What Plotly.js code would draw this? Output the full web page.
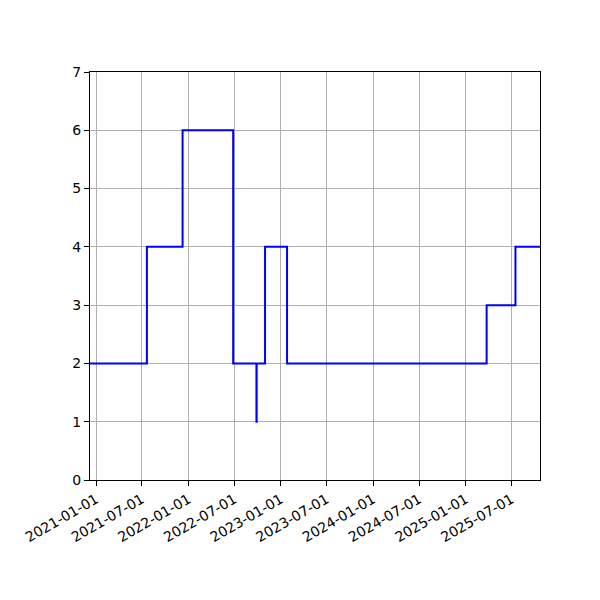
<!DOCTYPE html>
<html>
<head>
<meta charset="utf-8">
<script src="https://cdn.plot.ly/plotly-3.0.1.min.js"></script>
<style>body{margin:0;} #plotDiv{width:600px;height:600px;}</style>
</head>
<body>
<div id="plotDiv"></div>
<script>
var dates = ['2020-12-08', '2021-07-21', '2021-12-09', '2022-06-27', '2022-09-27',
  '2022-09-28', '2022-10-31', '2023-01-26', '2025-03-25', '2025-07-17', '2025-10-22'];
var values = [2, 4, 6, 2, 1, 2, 4, 2, 3, 4, 4];
var tickDates = ['2021-01-01', '2021-07-01', '2022-01-01', '2022-07-01', '2023-01-01',
  '2023-07-01', '2024-01-01', '2024-07-01', '2025-01-01', '2025-07-01'];

var data = [{
  type: 'scatter',
  mode: 'lines',
  x: dates,
  y: values,
  line: { shape: 'hv', color: '#0000ff', width: 2 },
  hoverinfo: 'x+y'
}];

var axisStyle = {
  showline: true,
  linecolor: '#000',
  linewidth: 1,
  mirror: true,
  ticks: 'outside',
  ticklen: 5,
  tickcolor: '#000',
  showgrid: true,
  gridcolor: '#b0b0b0',
  gridwidth: 0.8,
  zeroline: false,
  tickfont: { family: 'DejaVu Sans', size: 14, color: '#000' }
};

var layout = {
  width: 600,
  height: 600,
  margin: { l: 90, r: 60, t: 72, b: 120 },
  paper_bgcolor: '#fff',
  plot_bgcolor: '#fff',
  showlegend: false,
  xaxis: Object.assign({}, axisStyle, {
    type: 'date',
    range: [dates[0], dates[dates.length - 1]],
    tickvals: tickDates,
    ticktext: tickDates,
    tickangle: -30
  }),
  yaxis: Object.assign({}, axisStyle, {
    range: [0, 7],
    dtick: 1,
    tick0: 0
  })
};

Plotly.newPlot('plotDiv', data, layout, { displayModeBar: false });
</script>
</body>
</html>
